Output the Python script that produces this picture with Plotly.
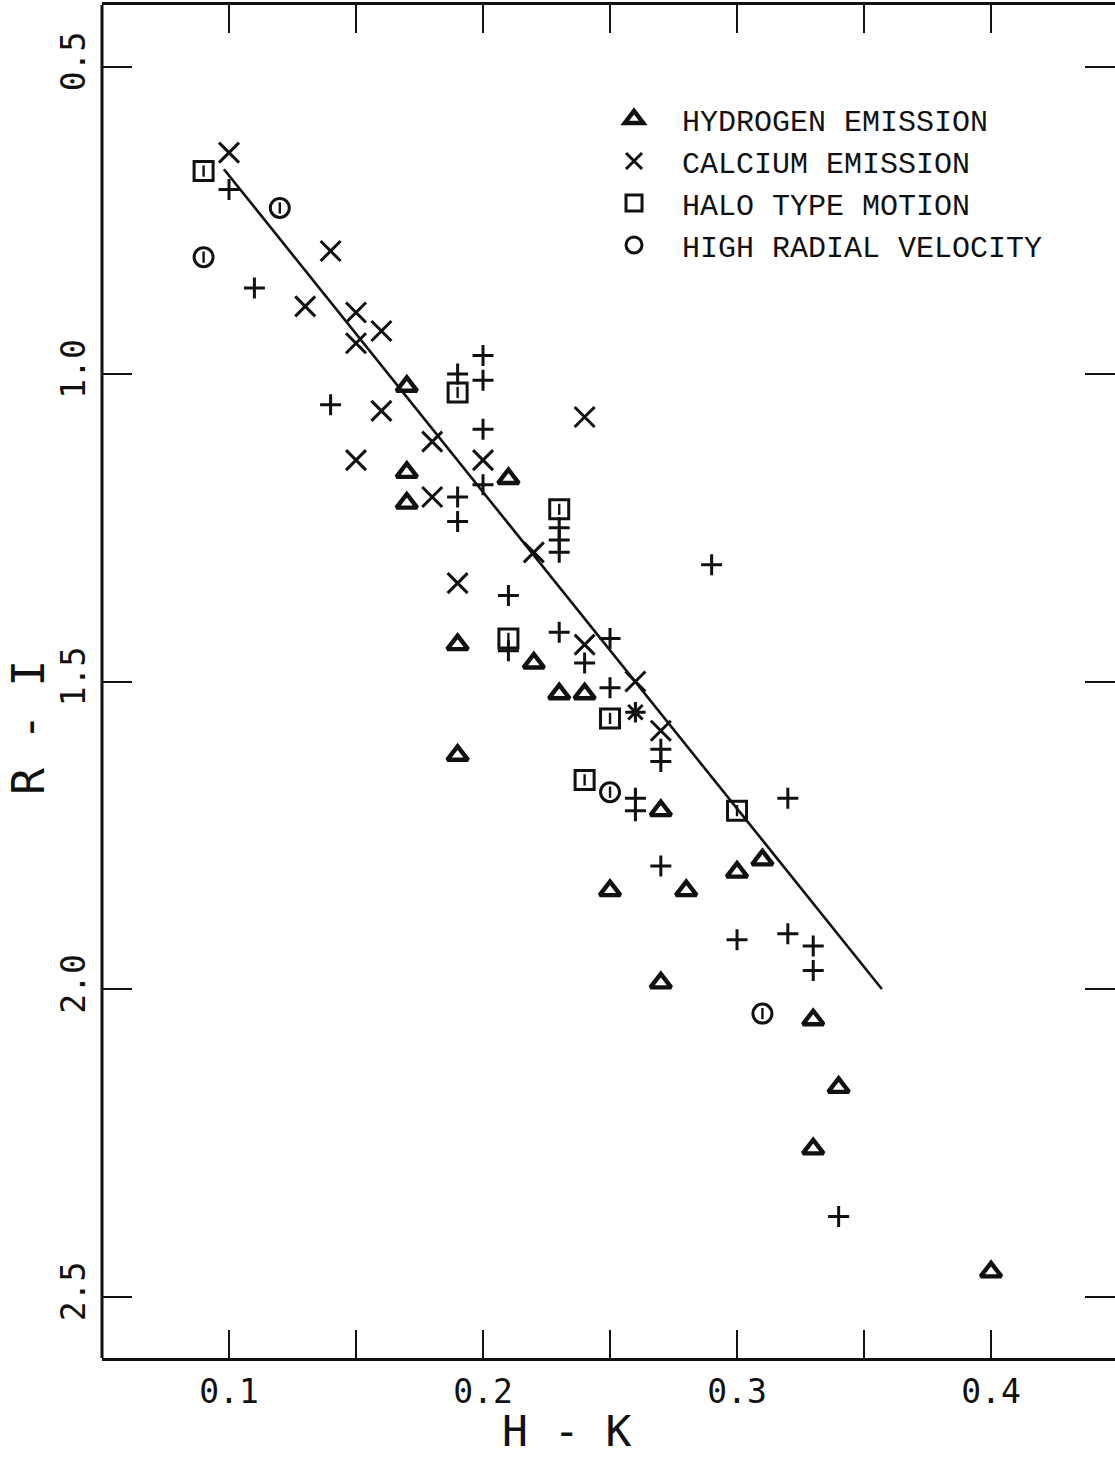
import plotly.graph_objects as go

# H-K / R-I colour measurements, grouped by spectral property
hyd_hk = [0.17, 0.17, 0.21, 0.17, 0.19, 0.22, 0.23, 0.24, 0.19, 0.27,
          0.31, 0.30, 0.25, 0.28, 0.27, 0.33, 0.34, 0.33, 0.40]
hyd_ri = [1.02, 1.16, 1.17, 1.21, 1.44, 1.47, 1.52, 1.52, 1.62, 1.71,
          1.79, 1.81, 1.84, 1.84, 1.99, 2.05, 2.16, 2.26, 2.46]

cal_hk = [0.10, 0.14, 0.13, 0.15, 0.16, 0.15, 0.16, 0.24, 0.18, 0.15,
          0.20, 0.18, 0.22, 0.19, 0.24, 0.26, 0.27]
cal_ri = [0.64, 0.80, 0.89, 0.90, 0.93, 0.95, 1.06, 1.07, 1.11, 1.14,
          1.14, 1.20, 1.29, 1.34, 1.44, 1.50, 1.58]

halo_hk = [0.09, 0.19, 0.23, 0.21, 0.25, 0.24, 0.30]
halo_ri = [0.67, 1.03, 1.22, 1.43, 1.56, 1.66, 1.71]

hrv_hk = [0.12, 0.09, 0.25, 0.31]
hrv_ri = [0.73, 0.81, 1.68, 2.04]

other_hk = [0.10, 0.11, 0.14, 0.19, 0.20, 0.20, 0.20, 0.20, 0.19, 0.19,
            0.23, 0.23, 0.23, 0.29, 0.21, 0.23, 0.21, 0.25, 0.24, 0.25,
            0.27, 0.27, 0.26, 0.26, 0.27, 0.32, 0.30, 0.32, 0.33, 0.33,
            0.34]
other_ri = [0.70, 0.86, 1.05, 1.00, 0.97, 1.01, 1.09, 1.18, 1.20, 1.24,
            1.25, 1.27, 1.29, 1.31, 1.36, 1.42, 1.45, 1.43, 1.47, 1.51,
            1.61, 1.63, 1.69, 1.71, 1.80, 1.69, 1.92, 1.91, 1.93, 1.97,
            2.37]

star_hk = [0.26]
star_ri = [1.55]

# mean relation
fit_hk = [0.098, 0.357]
fit_ri = [0.667, 2.00]

x_tickvals = [0.10, 0.15, 0.20, 0.25, 0.30, 0.35, 0.40]
x_ticktext = ["0.1", "", "0.2", "", "0.3", "", "0.4"]
y_tickvals = [0.5, 1.0, 1.5, 2.0, 2.5]
y_ticktext = ["0.5", "1.0", "1.5", "2.0", "2.5"]

INK = "#111111"
MONO = "DejaVu Sans Mono"
LW = 3.0

fig = go.Figure()

fig.add_trace(go.Scatter(
    x=fit_hk, y=fit_ri, mode="lines", showlegend=False,
    line=dict(color=INK, width=2.6)))

fig.add_trace(go.Scatter(
    x=other_hk, y=other_ri, mode="markers", showlegend=False,
    marker=dict(symbol="cross-thin-open", size=15, color=INK,
                line=dict(color=INK, width=LW))))

fig.add_trace(go.Scatter(
    x=star_hk, y=star_ri, mode="markers", showlegend=False,
    marker=dict(symbol="asterisk-open", size=17, color=INK,
                line=dict(color=INK, width=LW))))

fig.add_trace(go.Scatter(
    x=hyd_hk, y=hyd_ri, mode="markers", name="HYDROGEN EMISSION",
    marker=dict(symbol="triangle-up-open", size=18, color=INK,
                line=dict(color=INK, width=4.4))))

fig.add_trace(go.Scatter(
    x=cal_hk, y=cal_ri, mode="markers", name="CALCIUM EMISSION",
    marker=dict(symbol="x-thin-open", size=20, color=INK,
                line=dict(color=INK, width=LW))))

fig.add_trace(go.Scatter(
    x=halo_hk, y=halo_ri, mode="markers", name="HALO TYPE MOTION",
    marker=dict(symbol="square-open", size=19, color=INK,
                line=dict(color=INK, width=LW))))

fig.add_trace(go.Scatter(
    x=hrv_hk, y=hrv_ri, mode="markers", name="HIGH RADIAL VELOCITY",
    marker=dict(symbol="circle-open", size=19, color=INK,
                line=dict(color=INK, width=LW))))

# small vertical stroke inside the plotter-style square and circle symbols
fig.add_trace(go.Scatter(
    x=halo_hk + hrv_hk, y=halo_ri + hrv_ri, mode="markers", showlegend=False,
    marker=dict(symbol="line-ns-open", size=8, color=INK,
                line=dict(color=INK, width=2.4))))

tick_common = dict(
    showgrid=False, zeroline=False, mirror="ticks", ticks="inside",
    tickcolor=INK, tickwidth=2.4, color=INK, linecolor=INK, linewidth=3,
    tickfont=dict(family=MONO, size=33, color=INK),
)

# bottom/top frame lines come from the x axis; the left edge is a shape so
# that the right side carries ticks only
fig.update_xaxes(
    range=[0.05, 0.4488], tickmode="array", tickvals=x_tickvals,
    ticktext=x_ticktext, ticklen=28, ticklabelstandoff=2, showline=True,
    **tick_common)
fig.update_yaxes(
    range=[2.6, 0.4], tickmode="array", tickvals=y_tickvals,
    ticktext=y_ticktext, ticklen=30, tickangle=-90, showline=False,
    ticklabelstandoff=9, **tick_common)

fig.add_shape(type="line", xref="paper", yref="paper", x0=0, x1=0, y0=0, y1=1,
              line=dict(color=INK, width=3))

fig.update_layout(
    width=1115, height=1459,
    margin=dict(l=102, r=0, t=5, b=101),
    paper_bgcolor="white", plot_bgcolor="white",
    font=dict(family=MONO, color=INK),
    legend=dict(
        x=0.4778, y=0.935, xanchor="left", yanchor="top",
        bgcolor="rgba(0,0,0,0)", borderwidth=0, itemwidth=86,
        font=dict(family="Liberation Mono", size=30, color=INK),
        tracegroupgap=0,
    ),
    annotations=[
        dict(text="H - K", xref="paper", yref="paper", x=0.459, y=0,
             yshift=-73, xanchor="center", yanchor="middle",
             showarrow=False, font=dict(family=MONO, size=43, color=INK)),
        dict(text="R - I", xref="paper", yref="paper", x=0, y=0.4656,
             xshift=-74, xanchor="center", yanchor="middle", textangle=-90,
             showarrow=False, font=dict(family=MONO, size=45, color=INK)),
    ],
)

fig.write_html("out.html")
